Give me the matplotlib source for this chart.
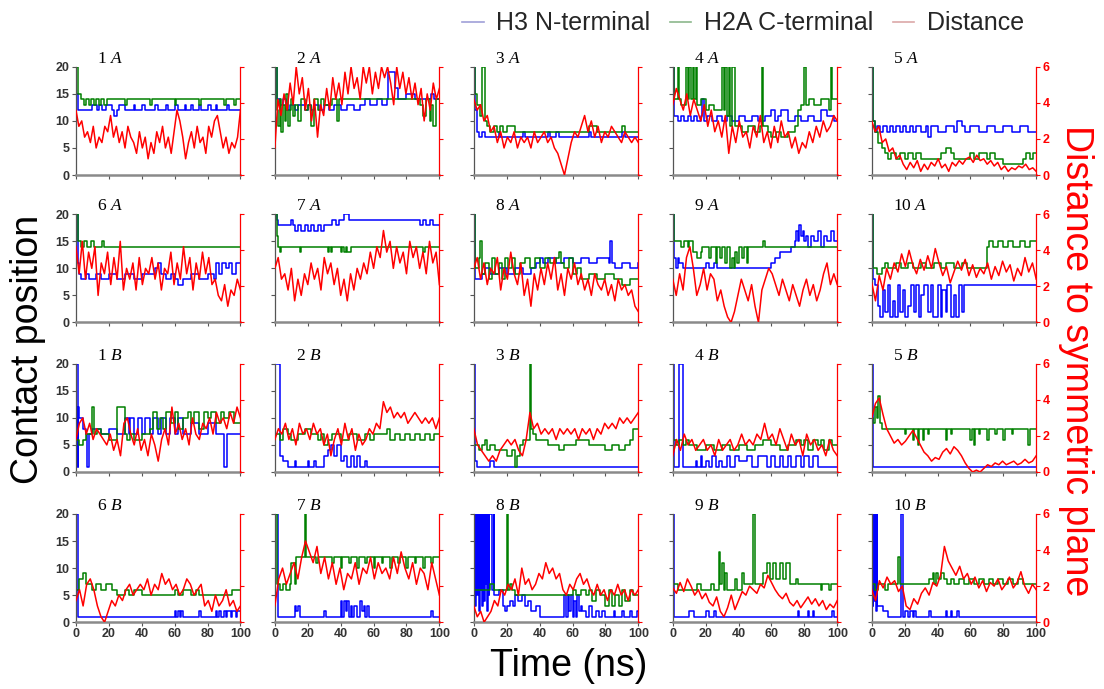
import numpy as np
import matplotlib
matplotlib.use("Agg")
import matplotlib.pyplot as plt
from matplotlib.lines import Line2D

plt.rcParams["font.family"] = ["Liberation Sans", "DejaVu Sans"]
plt.rcParams["mathtext.fontset"] = "custom"
plt.rcParams["mathtext.rm"] = "Liberation Serif"
plt.rcParams["mathtext.it"] = "Liberation Serif:italic"

# ---- data: blue/green = (time, contact position) steps, red = distance samples over 0-100 ns ----
blue_1A = [(0, 15), (1, 12), (10, 13), (13, 12), (14, 13), (16, 12), (18, 13), (22, 12), (23, 11), (25, 12),
           (26, 13), (30, 12), (35, 13), (36, 12), (40, 13), (42, 12), (48, 13), (50, 12), (55, 13), (56, 12),
           (60, 13), (62, 12), (66, 13), (67, 12), (70, 13), (71, 12), (75, 13), (76, 12), (80, 13), (82, 12),
           (85, 13), (86, 12), (92, 13), (93, 12), (100, 12)]
green_1A = [(0, 20), (1, 15), (3, 14), (5, 13), (6, 14), (8, 13), (9, 14), (11, 13), (12, 14), (14, 13),
            (15, 14), (17, 13), (19, 14), (30, 13), (31, 14), (45, 13), (46, 14), (60, 13), (61, 14),
            (75, 13), (76, 14), (90, 13), (91, 14), (96, 13), (97, 14), (100, 14)]
red_1A = [3.6, 2.7, 3.0, 2.1, 2.4, 1.8, 2.7, 1.5, 2.1, 1.8, 2.7, 2.4, 3.3, 2.1, 2.7, 1.8, 2.4, 1.5, 2.7, 2.1,
          1.8, 1.2, 2.4, 1.5, 2.1, 0.9, 1.8, 1.2, 2.4, 1.8, 2.7, 1.5, 2.1, 1.2, 2.4, 3.6, 3.0, 2.1, 0.9, 1.8,
          2.4, 1.5, 2.7, 1.8, 2.1, 1.2, 2.7, 2.1, 3.0, 3.3, 2.4, 1.5, 2.1, 1.2, 1.8, 1.5, 2.1, 3.6]

blue_2A = [(0, 20), (1, 14), (3, 13), (5, 14), (7, 12), (9, 13), (12, 12), (14, 13), (18, 12), (20, 13),
           (22, 12), (24, 13), (27, 12), (30, 13), (33, 12), (36, 13), (40, 12), (44, 13), (48, 12), (52, 13),
           (55, 14), (58, 13), (62, 14), (65, 13), (68, 14), (69, 19), (73, 16), (75, 14), (80, 15), (85, 14),
           (95, 15), (97, 14), (100, 14)]
green_2A = [(0, 20), (1, 12), (2, 9), (3, 14), (4, 8), (5, 13), (6, 10), (7, 15), (8, 9), (9, 12), (10, 14),
            (11, 11), (12, 13), (14, 10), (16, 14), (18, 12), (20, 13), (22, 9), (24, 14), (26, 12), (28, 14),
            (30, 13), (35, 14), (38, 10), (39, 14), (88, 13), (90, 11), (92, 14), (94, 10), (95, 13), (96, 9),
            (98, 14), (100, 14)]
red_2A = [1.5, 4.2, 3.3, 4.5, 3.6, 5.1, 3.9, 6.0, 4.5, 5.4, 3.6, 4.8, 3.0, 4.2, 2.1, 3.9, 3.3, 4.8, 3.6, 5.4,
          4.2, 5.1, 3.9, 5.7, 4.5, 6.0, 4.8, 5.4, 4.2, 6.0, 5.1, 6.0, 4.5, 5.7, 4.8, 6.0, 5.4, 6.0, 5.1, 3.9,
          6.0, 4.8, 5.7, 4.5, 5.4, 4.2, 5.1, 3.9, 4.8, 3.0, 4.5, 3.6, 5.1, 4.2, 4.8]

blue_3A = [(0, 20), (1, 12), (2, 8), (3, 7), (5, 8), (7, 7), (15, 8), (16, 7), (30, 8), (31, 7), (45, 8),
           (46, 7), (50, 8), (52, 7), (70, 8), (71, 7), (90, 8), (92, 7), (100, 7)]
green_3A = [(0, 20), (1, 15), (2, 13), (4, 11), (5, 20), (7, 10), (8, 9), (10, 8), (12, 9), (14, 8), (16, 9),
            (18, 8), (20, 9), (25, 8), (70, 9), (75, 8), (90, 9), (92, 8), (100, 8)]
red_3A = [4.2, 3.6, 3.9, 3.0, 3.3, 2.4, 2.7, 1.8, 2.4, 1.5, 2.1, 1.8, 2.4, 1.5, 2.1, 1.8, 2.1, 1.5, 2.4, 1.8,
          2.1, 2.4, 1.8, 2.1, 1.5, 1.2, 0.6, 0.0, 0.9, 1.8, 2.4, 2.1, 2.7, 3.3, 2.4, 3.0, 2.1, 2.7, 1.8, 2.4,
          2.1, 2.7, 2.4, 2.1, 1.8, 2.4, 2.1, 1.8, 2.1, 1.8]

blue_4A = [(0, 20), (1, 11), (3, 10), (5, 11), (7, 10), (9, 11), (11, 10), (13, 11), (15, 10), (17, 11),
           (18, 14), (19, 10), (21, 11), (24, 10), (27, 11), (30, 10), (33, 11), (36, 10), (40, 11), (44, 10),
           (48, 11), (52, 10), (56, 11), (60, 12), (62, 10), (64, 11), (66, 12), (70, 10), (74, 11), (78, 10),
           (82, 11), (86, 10), (90, 12), (94, 11), (98, 10), (100, 10)]
green_4A = [(0, 20), (1, 14), (3, 20), (4, 14), (5, 13), (8, 20), (9, 14), (10, 20), (11, 14), (12, 20),
            (13, 14), (14, 20), (15, 13), (17, 14), (20, 12), (22, 13), (25, 12), (30, 20), (31, 12), (32, 20),
            (33, 11), (34, 20), (35, 9), (36, 20), (38, 9), (42, 8), (46, 9), (50, 8), (53, 9), (54, 20),
            (55, 9), (58, 8), (60, 7), (63, 8), (66, 7), (70, 8), (74, 9), (76, 12), (78, 13), (80, 20),
            (81, 13), (83, 14), (86, 13), (90, 14), (95, 12), (96, 20), (97, 14), (100, 14)]
red_4A = [3.9, 4.8, 4.2, 3.6, 4.5, 3.3, 4.2, 3.6, 3.0, 3.9, 2.7, 3.6, 2.4, 3.0, 2.1, 3.3, 1.2, 2.7, 1.8, 3.0,
          2.1, 2.4, 1.5, 2.7, 2.1, 3.3, 1.8, 2.4, 1.5, 2.7, 1.8, 3.0, 2.1, 2.4, 1.5, 2.1, 1.2, 1.8, 1.5, 2.4,
          1.8, 2.7, 2.1, 3.0, 2.4, 2.7, 3.3, 3.0]

blue_5A = [(0, 20), (1, 10), (2, 8), (3, 9), (5, 8), (7, 9), (9, 8), (11, 9), (13, 8), (15, 9), (17, 8),
           (19, 9), (21, 8), (23, 9), (25, 8), (27, 9), (30, 8), (33, 9), (34, 7), (36, 9), (40, 8), (45, 9),
           (50, 8), (52, 10), (55, 9), (57, 8), (60, 9), (65, 8), (70, 9), (75, 8), (80, 9), (85, 8), (90, 9),
           (95, 8), (100, 8)]
green_5A = [(0, 20), (1, 10), (2, 8), (4, 6), (6, 5), (8, 4), (10, 3), (12, 4), (15, 3), (17, 4), (20, 3),
            (22, 4), (25, 3), (27, 4), (30, 3), (40, 3), (42, 4), (45, 5), (48, 4), (50, 3), (60, 4), (62, 3),
            (65, 4), (70, 3), (72, 4), (75, 3), (80, 2), (90, 2), (92, 3), (94, 4), (96, 3), (98, 4), (100, 4)]
red_5A = [3.0, 2.4, 2.7, 1.8, 2.0, 1.3, 1.5, 0.9, 1.1, 0.6, 0.3, 0.7, 0.4, 0.8, 0.2, 0.6, 0.3, 0.7, 0.5, 0.9,
          0.4, 0.6, 0.2, 0.7, 0.5, 0.8, 0.6, 0.9, 1.0, 0.7, 1.1, 0.8, 0.9, 0.6, 0.8, 0.5, 0.7, 0.3, 0.5, 0.2,
          0.4, 0.3, 0.5, 0.4, 0.6, 0.3, 0.4, 0.2]

blue_6A = [(0, 20), (1, 11), (2, 9), (3, 8), (6, 9), (8, 8), (12, 9), (15, 8), (20, 9), (25, 8), (30, 9),
           (35, 8), (40, 9), (48, 10), (50, 11), (52, 9), (55, 8), (58, 9), (60, 8), (62, 7), (65, 8), (70, 9),
           (75, 8), (80, 9), (84, 8), (85, 11), (87, 9), (89, 11), (91, 10), (93, 11), (95, 9), (97, 11),
           (100, 11)]
green_6A = [(0, 20), (1, 15), (3, 14), (5, 15), (7, 14), (9, 15), (11, 14), (16, 15), (17, 14), (100, 14)]
red_6A = [4.2, 2.7, 4.5, 2.4, 3.9, 3.0, 4.2, 1.5, 3.3, 2.7, 3.9, 2.1, 3.6, 2.4, 4.5, 1.8, 3.0, 2.4, 3.3, 1.8,
          3.6, 2.1, 3.0, 2.7, 3.6, 2.4, 3.3, 1.8, 3.0, 2.7, 3.9, 2.1, 3.3, 2.4, 4.2, 2.7, 3.6, 1.8, 3.3, 2.4,
          3.9, 2.7, 3.6, 2.1, 2.4, 1.5, 1.2, 2.1, 0.9, 1.8, 1.5, 2.4, 1.8]

blue_7A = [(0, 20), (1, 19), (2, 18), (10, 19), (11, 18), (12, 17), (14, 18), (16, 17), (18, 18), (20, 17),
           (22, 18), (24, 17), (26, 18), (28, 17), (30, 18), (35, 19), (37, 18), (39, 19), (42, 20), (45, 19),
           (87, 19), (88, 18), (90, 19), (92, 18), (94, 19), (96, 18), (100, 18)]
green_7A = [(0, 20), (1, 16), (2, 14), (3, 13), (4, 14), (15, 13), (16, 14), (32, 13), (33, 14), (34, 13),
            (35, 14), (40, 13), (41, 14), (42, 13), (43, 14), (44, 13), (46, 14), (90, 13), (91, 14), (100, 14)]
red_7A = [3.0, 3.6, 2.4, 2.7, 1.8, 3.0, 1.2, 2.4, 1.5, 2.7, 2.1, 3.3, 2.4, 3.0, 1.8, 3.6, 2.7, 3.3, 2.1, 3.0,
          1.5, 2.4, 1.2, 2.7, 1.8, 3.0, 2.4, 3.3, 2.7, 3.9, 3.0, 4.2, 3.6, 5.1, 3.9, 4.5, 3.0, 4.2, 3.3, 3.9,
          2.7, 4.5, 3.6, 4.2, 3.0, 3.9, 2.7, 4.5, 3.3, 3.9, 2.1]

blue_8A = [(0, 20), (1, 8), (5, 9), (7, 10), (10, 9), (15, 10), (20, 9), (25, 10), (30, 9), (35, 10),
           (38, 11), (40, 12), (42, 11), (45, 12), (50, 11), (55, 12), (60, 11), (65, 12), (70, 11), (75, 12),
           (82, 11), (83, 15), (84, 11), (86, 10), (90, 11), (95, 10), (100, 11)]
green_8A = [(0, 20), (1, 10), (3, 12), (4, 15), (5, 9), (7, 11), (9, 8), (11, 12), (13, 9), (15, 11),
            (17, 8), (19, 12), (21, 10), (23, 12), (25, 9), (28, 11), (31, 12), (34, 10), (37, 12), (40, 10),
            (43, 12), (46, 11), (50, 12), (52, 13), (53, 11), (55, 10), (58, 12), (60, 9), (63, 10), (65, 8),
            (70, 9), (75, 8), (80, 9), (85, 8), (90, 7), (95, 8), (100, 8)]
red_8A = [3.0, 3.6, 2.4, 3.3, 2.1, 3.0, 2.7, 3.6, 1.8, 3.0, 2.4, 3.9, 2.7, 2.1, 3.3, 1.5, 2.4, 0.9, 2.7, 1.8,
          3.0, 2.1, 3.3, 2.4, 3.6, 1.8, 2.7, 1.5, 3.0, 2.4, 3.3, 2.1, 2.7, 1.8, 2.4, 1.5, 2.7, 2.1, 1.8, 2.4,
          1.5, 2.1, 1.2, 2.4, 1.8, 2.1, 1.5, 1.8, 0.9, 0.6]

blue_9A = [(0, 20), (1, 12), (2, 10), (3, 12), (4, 11), (6, 10), (20, 11), (22, 10), (25, 11), (27, 10),
           (60, 11), (62, 12), (65, 13), (72, 14), (74, 15), (75, 17), (76, 15), (77, 18), (78, 16), (79, 17),
           (80, 15), (81, 16), (82, 14), (84, 16), (86, 15), (88, 17), (90, 14), (92, 16), (94, 15), (96, 17),
           (98, 15), (100, 15)]
green_9A = [(0, 20), (1, 15), (5, 14), (7, 15), (9, 14), (10, 15), (12, 13), (15, 12), (17, 13), (18, 14),
            (22, 12), (23, 14), (26, 11), (27, 14), (29, 12), (30, 14), (32, 11), (33, 14), (35, 10), (36, 12),
            (37, 10), (38, 13), (39, 11), (40, 14), (42, 12), (43, 14), (45, 11), (46, 14), (55, 15), (56, 14),
            (100, 14)]
red_9A = [2.4, 1.5, 2.7, 1.8, 3.6, 4.2, 3.0, 1.5, 2.1, 3.0, 1.8, 2.7, 2.4, 1.2, 1.8, 0.9, 0.3, 0.0, 0.6, 1.5,
          2.4, 1.8, 1.2, 2.1, 0.9, 0.0, 1.8, 2.4, 3.0, 2.7, 2.1, 1.5, 2.4, 1.8, 1.2, 2.1, 1.5, 0.9, 1.8, 2.4,
          1.5, 2.1, 1.2, 1.8, 2.7, 3.3, 2.1, 2.7, 2.1]

blue_10A = [(0, 20), (1, 8), (2, 7), (4, 3), (5, 1), (7, 6), (8, 2), (10, 7), (11, 1), (13, 4), (14, 1),
            (16, 7), (17, 2), (19, 6), (20, 1), (22, 3), (24, 7), (26, 2), (27, 7), (29, 1), (30, 5), (32, 7),
            (34, 2), (36, 7), (37, 1), (40, 7), (42, 1), (43, 6), (45, 2), (46, 7), (48, 1), (50, 5), (51, 1),
            (53, 7), (55, 2), (56, 7), (100, 7)]
green_10A = [(0, 20), (1, 10), (3, 9), (6, 10), (8, 11), (10, 10), (15, 11), (18, 10), (22, 11), (25, 10),
             (30, 11), (33, 10), (38, 11), (42, 10), (45, 11), (50, 10), (55, 11), (58, 10), (70, 14), (71, 15),
             (74, 14), (77, 15), (80, 14), (83, 15), (86, 14), (90, 15), (93, 14), (96, 15), (100, 15)]
red_10A = [2.2, 1.2, 2.6, 1.8, 3.0, 2.4, 3.3, 2.8, 3.8, 3.1, 4.0, 3.2, 2.7, 3.5, 2.9, 3.7, 3.0, 4.1, 3.3, 2.6,
           3.1, 2.2, 2.8, 3.4, 2.9, 3.5, 2.6, 3.2, 2.5, 3.0, 2.7, 3.3, 2.4, 3.1, 2.6, 3.4, 2.8, 3.2, 2.3, 3.0,
           2.6, 3.6, 2.8, 3.3, 2.4]

blue_1B = [(0, 20), (1, 1), (1.5, 12), (2, 10), (4, 8), (6, 7), (7, 1), (8, 7), (10, 8), (15, 7), (20, 8),
           (25, 7), (30, 10), (32, 7), (33, 10), (35, 7), (38, 10), (40, 7), (42, 10), (45, 7), (47, 10),
           (50, 7), (52, 10), (55, 7), (57, 10), (60, 7), (62, 10), (65, 7), (70, 9), (75, 7), (80, 9), (85, 7),
           (90, 1), (92, 7), (100, 7)]
green_1B = [(0, 6), (2, 5), (4, 6), (6, 7), (10, 12), (11, 7), (13, 8), (15, 7), (20, 6), (25, 12), (30, 7),
            (31, 6), (33, 7), (35, 6), (40, 7), (45, 8), (47, 11), (49, 8), (51, 10), (53, 8), (55, 11), (58, 9),
            (60, 11), (62, 8), (65, 10), (68, 11), (70, 9), (72, 11), (75, 8), (78, 11), (80, 10), (82, 11),
            (85, 9), (88, 11), (90, 10), (93, 11), (96, 9), (100, 9)]
red_1B = [1.8, 2.7, 3.0, 2.1, 2.7, 1.8, 2.4, 2.1, 1.8, 1.5, 2.1, 1.2, 1.8, 0.9, 2.7, 3.0, 2.1, 1.5, 2.4, 1.2,
          1.8, 0.9, 2.1, 1.5, 0.6, 1.8, 2.4, 1.5, 3.6, 2.1, 2.7, 1.8, 2.4, 1.5, 3.0, 2.1, 1.8, 2.7, 2.4, 3.0,
          2.1, 3.3, 2.7, 3.0, 2.4, 3.3, 2.7, 3.6, 3.0]

blue_2B = [(0, 20), (2, 20), (3, 3), (5, 2), (8, 1), (12, 2), (13, 1), (20, 2), (21, 1), (24, 2), (25, 1),
           (30, 3), (32, 4), (34, 5), (36, 3), (38, 5), (40, 2), (42, 3), (44, 1), (46, 3), (48, 1), (50, 3),
           (52, 1), (55, 2), (56, 1), (100, 1)]
green_2B = [(0, 7), (3, 6), (5, 8), (8, 7), (10, 6), (14, 7), (18, 8), (22, 7), (26, 6), (28, 7), (30, 5),
            (32, 6), (35, 7), (40, 6), (45, 7), (50, 6), (55, 7), (58, 6), (60, 7), (68, 8), (70, 6), (73, 7),
            (76, 6), (79, 7), (82, 6), (85, 7), (88, 6), (91, 7), (94, 6), (97, 7), (100, 7)]
red_2B = [1.8, 2.4, 2.1, 2.7, 1.8, 2.4, 1.5, 2.7, 2.1, 2.4, 1.8, 2.7, 2.1, 2.4, 1.5, 2.1, 0.9, 1.8, 2.4, 1.5,
          2.7, 1.8, 2.4, 1.2, 2.1, 1.5, 1.8, 2.4, 2.1, 2.7, 2.4, 3.9, 3.3, 3.6, 3.0, 3.3, 3.0, 3.3, 2.7, 3.0,
          3.3, 3.0, 2.7, 3.0, 2.7, 3.0, 2.4, 3.0]

blue_3B = [(0, 20), (1, 2), (2, 1), (10, 2), (12, 1), (100, 1)]
green_3B = [(0, 5), (3, 4), (5, 5), (7, 6), (8, 4), (10, 5), (13, 4), (20, 3), (23, 4), (25, 1), (26, 3),
            (28, 5), (30, 6), (34, 20), (35, 8), (36, 7), (38, 6), (45, 5), (52, 4), (55, 5), (62, 6), (70, 5),
            (80, 4), (84, 5), (88, 4), (92, 5), (95, 6), (97, 8), (100, 8)]
red_3B = [2.4, 1.5, 1.2, 0.9, 0.6, 0.9, 0.6, 1.2, 1.5, 1.8, 1.5, 1.8, 1.2, 0.9, 1.8, 3.3, 2.4, 2.7, 2.1, 2.4,
          2.1, 2.4, 1.8, 2.4, 2.1, 2.4, 2.1, 2.4, 1.8, 2.4, 2.1, 2.4, 1.8, 2.4, 2.1, 2.7, 2.4, 2.7, 2.4, 3.0,
          2.7, 3.0, 2.7, 3.0, 3.3]

blue_4B = [(0, 20), (1, 1), (4, 20), (6, 1), (14, 2), (15, 1), (17, 3), (18, 1), (20, 2), (22, 1), (24, 3),
           (26, 1), (28, 2), (30, 1), (33, 3), (35, 1), (38, 3), (40, 2), (45, 3), (48, 1), (52, 3), (57, 1),
           (60, 3), (62, 1), (65, 3), (67, 1), (70, 3), (72, 1), (75, 3), (78, 1), (80, 3), (83, 1), (85, 3),
           (88, 1), (100, 1)]
green_4B = [(0, 6), (2, 5), (4, 6), (6, 5), (8, 6), (10, 5), (15, 4), (20, 5), (25, 4), (30, 5), (35, 4),
            (40, 5), (45, 4), (50, 5), (55, 6), (60, 5), (65, 4), (70, 5), (75, 6), (78, 5), (80, 6), (82, 4),
            (85, 6), (88, 5), (90, 6), (92, 4), (95, 6), (97, 5), (100, 5)]
red_4B = [0.9, 1.8, 1.2, 2.1, 1.5, 1.8, 1.2, 1.5, 1.8, 1.2, 1.5, 0.9, 1.8, 1.2, 1.5, 1.8, 1.2, 1.5, 2.1, 1.5,
          1.8, 1.5, 2.1, 1.8, 2.7, 1.8, 2.1, 1.5, 2.4, 1.8, 1.2, 2.1, 1.5, 1.8, 0.9, 2.1, 1.5, 1.8, 1.2, 1.5,
          0.9, 1.8, 1.2, 0.9]

blue_5B = [(0, 20), (1, 1), (100, 1)]
green_5B = [(0, 10), (1, 9), (2, 12), (3, 10), (4, 14), (5, 9), (6, 8), (20, 7), (21, 8), (25, 6), (26, 8),
            (28, 5), (29, 8), (31, 6), (32, 8), (34, 7), (35, 8), (45, 6), (46, 8), (48, 7), (49, 8), (60, 6),
            (61, 8), (62, 5), (63, 8), (65, 7), (66, 8), (70, 6), (71, 8), (75, 7), (76, 8), (80, 6), (81, 8),
            (85, 7), (86, 8), (95, 5), (96, 8), (100, 8)]
red_5B = [3.0, 3.8, 4.1, 3.2, 2.4, 2.0, 1.6, 1.8, 1.5, 1.7, 2.0, 2.3, 1.9, 1.5, 1.1, 0.9, 0.6, 0.8, 0.7, 1.1,
          1.3, 1.0, 1.4, 1.2, 0.9, 0.5, 0.2, 0.0, 0.1, 0.0, 0.2, 0.4, 0.3, 0.5, 0.4, 0.6, 0.4, 0.5, 0.6, 0.4,
          0.5, 0.7, 0.5, 0.6, 0.9]

blue_6B = [(0, 20), (1, 1), (60, 2), (61, 1), (62, 2), (63, 1), (64, 2), (65, 1), (75, 2), (76, 1), (85, 2),
           (86, 1), (87, 2), (88, 1), (90, 2), (91, 1), (92, 2), (94, 1), (95, 2), (97, 1), (98, 2), (100, 2)]
green_6B = [(0, 6), (2, 8), (4, 9), (6, 7), (10, 6), (12, 7), (15, 6), (18, 7), (22, 6), (25, 5), (30, 6),
            (32, 5), (35, 6), (40, 5), (60, 6), (62, 5), (65, 6), (70, 5), (73, 6), (75, 5), (95, 6), (100, 6)]
red_6B = [1.2, 1.8, 0.9, 2.1, 2.4, 1.8, 0.9, 0.3, 0.0, 0.6, 1.2, 0.9, 1.5, 1.2, 1.8, 2.1, 1.5, 1.8, 2.1, 1.8,
          2.4, 1.5, 2.1, 1.8, 2.7, 2.1, 2.4, 1.8, 2.1, 1.5, 1.8, 2.4, 2.1, 1.5, 1.8, 2.1, 0.9, 1.2, 0.6, 1.5,
          0.9, 1.2, 1.8, 0.9, 1.2, 0.6, 0.9]

blue_7B = [(0, 20), (2, 1), (12, 3), (13, 2), (14, 3), (15, 1), (30, 2), (31, 1), (40, 4), (41, 1), (42, 4),
           (43, 2), (44, 4), (45, 1), (46, 3), (47, 1), (48, 3), (50, 1), (52, 4), (53, 2), (54, 3), (55, 1),
           (56, 3), (57, 1), (95, 2), (96, 1), (100, 1)]
green_7B = [(0, 20), (1, 7), (3, 6), (5, 7), (7, 6), (9, 7), (10, 11), (12, 7), (13, 12), (18, 20), (19, 12),
            (25, 11), (26, 12), (35, 11), (36, 12), (40, 10), (41, 12), (45, 11), (46, 12), (50, 10), (51, 12),
            (55, 11), (56, 12), (60, 10), (61, 12), (65, 11), (66, 12), (70, 10), (71, 12), (75, 11), (76, 12),
            (80, 10), (81, 12), (85, 11), (86, 12), (90, 10), (91, 12), (95, 11), (96, 12), (100, 12)]
red_7B = [0.9, 2.4, 3.0, 2.1, 2.7, 3.3, 2.4, 3.6, 4.5, 3.9, 3.3, 4.2, 2.7, 3.6, 2.4, 3.3, 2.1, 3.0, 1.8, 2.7,
          2.4, 3.3, 2.1, 3.0, 2.7, 3.6, 2.4, 3.3, 2.7, 3.0, 2.4, 3.6, 2.7, 3.9, 3.0, 2.4, 3.3, 2.1, 3.0, 2.7,
          1.8, 3.3, 2.4, 1.5]

blue_8B = [(0, 20), (1, 3), (1.5, 20), (2, 5), (2.5, 20), (3, 2), (3.5, 20), (4, 6), (4.5, 20), (5, 3),
           (5.5, 20), (6, 4), (6.5, 20), (7, 7), (7.5, 20), (8, 2), (8.5, 20), (9, 5), (9.5, 20), (11, 6),
           (12, 20), (12.5, 5), (15, 6), (18, 3), (19, 2), (20, 3), (22, 4), (24, 3), (25, 5), (27, 4), (29, 5),
           (31, 3), (33, 4), (35, 2), (38, 3), (40, 1), (55, 5), (56, 1), (57, 5), (58, 2), (59, 5), (60, 1),
           (61, 4), (62, 1), (63, 5), (64, 2), (65, 3), (66, 2), (68, 1), (70, 3), (72, 1), (74, 2), (76, 1),
           (78, 2), (80, 1), (85, 2), (86, 1), (90, 2), (91, 1), (95, 2), (96, 1), (99, 2), (100, 2)]
green_8B = [(0, 6), (10, 7), (12, 6), (20, 20), (21, 6), (22, 7), (23, 6), (25, 5), (60, 6), (62, 5), (65, 6),
            (68, 5), (70, 6), (72, 4), (74, 6), (77, 5), (80, 3), (82, 6), (84, 3), (86, 5), (88, 3), (90, 6),
            (92, 4), (95, 6), (97, 5), (100, 5)]
red_8B = [0.9, 0.3, 0.6, 0.0, 0.3, 0.6, 1.2, 0.9, 1.8, 1.5, 2.1, 1.8, 2.4, 1.5, 3.0, 2.1, 2.4, 1.8, 2.1, 2.7,
          2.4, 3.3, 2.7, 3.0, 2.4, 2.7, 1.8, 1.5, 2.1, 1.8, 2.4, 2.7, 2.1, 2.4, 1.8, 1.5, 2.1, 1.5, 1.8, 1.2,
          1.8, 1.5, 2.1, 1.5, 1.8, 1.2, 1.8, 1.5, 1.8]

blue_9B = [(0, 20), (1, 1), (10, 2), (13, 1), (20, 2), (22, 1), (25, 2), (26, 1), (76, 2), (77, 1), (82, 2),
           (83, 1), (85, 2), (86, 1), (97, 2), (98, 1), (100, 1)]
green_9B = [(0, 7), (3, 6), (15, 7), (17, 6), (23, 7), (25, 6), (28, 13), (29, 7), (30, 11), (31, 6), (32, 9),
            (33, 6), (38, 8), (39, 6), (42, 9), (43, 7), (49, 20), (50, 7), (55, 9), (57, 11), (59, 8), (61, 11),
            (63, 8), (65, 11), (67, 8), (69, 11), (71, 7), (75, 8), (76, 7), (90, 6), (91, 7), (95, 6), (96, 7),
            (100, 7)]
red_9B = [1.9, 1.6, 2.2, 1.7, 2.4, 2.0, 1.5, 1.8, 1.3, 1.6, 1.1, 0.9, 1.4, 0.6, 0.3, 0.8, 1.5, 0.7, 1.2, 1.7,
          1.5, 2.0, 1.8, 1.6, 2.1, 1.9, 2.6, 2.2, 1.8, 1.5, 1.3, 1.6, 1.1, 0.9, 1.2, 0.8, 1.1, 1.4, 1.0, 1.3,
          0.9, 1.2, 0.7, 1.0, 0.8, 1.2]

blue_10B = [(0, 20), (0.5, 3), (1, 20), (1.5, 4), (2, 20), (2.5, 2), (3, 20), (3.5, 3), (7, 2), (10, 1),
            (18, 20), (19, 1), (20, 2), (22, 1), (23, 2), (25, 1), (26, 2), (27, 1), (35, 2), (36, 1), (45, 2),
            (46, 1), (48, 2), (49, 1), (52, 2), (53, 1), (100, 1)]
green_10B = [(0, 7), (2, 6), (4, 7), (8, 6), (10, 7), (16, 12), (17, 7), (35, 8), (37, 9), (38, 7), (39, 9),
             (40, 8), (42, 9), (44, 8), (46, 7), (48, 8), (50, 7), (53, 8), (56, 7), (59, 8), (62, 7), (65, 8),
             (68, 7), (71, 8), (74, 7), (77, 8), (80, 7), (83, 8), (86, 7), (89, 8), (92, 7), (100, 7)]
red_10B = [1.8, 1.2, 2.3, 1.9, 2.5, 2.1, 2.3, 1.7, 2.0, 0.9, 0.7, 1.3, 1.0, 1.6, 1.9, 1.5, 2.2, 2.0, 2.6, 4.2,
           3.4, 3.0, 2.6, 3.1, 2.4, 2.7, 2.1, 2.5, 1.9, 2.3, 1.7, 2.2, 2.0, 2.4, 1.8, 2.1, 2.5, 1.9, 2.2, 2.8,
           2.0, 1.6, 2.1, 1.8]

panels = [
    ("1", "A", blue_1A, green_1A, red_1A), ("2", "A", blue_2A, green_2A, red_2A),
    ("3", "A", blue_3A, green_3A, red_3A), ("4", "A", blue_4A, green_4A, red_4A),
    ("5", "A", blue_5A, green_5A, red_5A), ("6", "A", blue_6A, green_6A, red_6A),
    ("7", "A", blue_7A, green_7A, red_7A), ("8", "A", blue_8A, green_8A, red_8A),
    ("9", "A", blue_9A, green_9A, red_9A), ("10", "A", blue_10A, green_10A, red_10A),
    ("1", "B", blue_1B, green_1B, red_1B), ("2", "B", blue_2B, green_2B, red_2B),
    ("3", "B", blue_3B, green_3B, red_3B), ("4", "B", blue_4B, green_4B, red_4B),
    ("5", "B", blue_5B, green_5B, red_5B), ("6", "B", blue_6B, green_6B, red_6B),
    ("7", "B", blue_7B, green_7B, red_7B), ("8", "B", blue_8B, green_8B, red_8B),
    ("9", "B", blue_9B, green_9B, red_9B), ("10", "B", blue_10B, green_10B, red_10B),
]

BLUE, GREEN, RED = "#0000ff", "#008000", "#ff0000"

fig = plt.figure(figsize=(11.04, 6.89), dpi=100)

# grid geometry (figure fractions)
left0, dx, w, h = 0.0688, 0.1802, 0.149, 0.157
bottoms = [0.746, 0.532, 0.315, 0.097]

for i, (num, letter, blue, green, red) in enumerate(panels):
    r, c = divmod(i, 5)
    ax = fig.add_axes([left0 + c * dx, bottoms[r], w, h])

    bt, bv = zip(*blue)
    gt, gv = zip(*green)
    ax.plot(bt, bv, drawstyle="steps-post", color=BLUE, lw=1.1)
    ax.plot(gt, gv, drawstyle="steps-post", color=GREEN, lw=1.1)
    ax.set_xlim(0, 100)
    ax.set_ylim(0, 20)
    ax.set_xticks(range(0, 101, 20))
    ax.set_yticks([0, 5, 10, 15, 20])

    ax2 = ax.twinx()
    ax2.plot(np.linspace(0, 100, len(red)), red, color=RED, lw=1.1)
    ax2.set_ylim(0, 6)
    ax2.set_yticks([0, 2, 4, 6])

    # spines
    ax.spines["top"].set_visible(False)
    ax.spines["right"].set_visible(False)
    ax.spines["left"].set_color("#555555")
    ax.spines["left"].set_linewidth(0.9)
    ax.spines["bottom"].set_color("#8a8a8a")
    ax.spines["bottom"].set_linewidth(1.8)
    for s in ("top", "left", "bottom"):
        ax2.spines[s].set_visible(False)
    ax2.spines["right"].set_color(RED)
    ax2.spines["right"].set_linewidth(0.9)

    ax.tick_params(axis="both", direction="out", length=3, width=0.8, color="#555555",
                   labelsize=9, labelcolor="#333333", pad=1.5,
                   labelbottom=(r == 3), labelleft=(c == 0))
    ax2.tick_params(axis="y", direction="out", length=3, width=0.8, color=RED,
                    labelsize=9, labelcolor=RED, pad=1.5, labelright=(c == 4))
    for lab in ax.get_xticklabels() + ax.get_yticklabels() + ax2.get_yticklabels():
        lab.set_fontweight("bold")

    ax.text(0.13, 1.0, num + r" $\mathit{" + letter + "}$", transform=ax.transAxes,
            family="Liberation Serif", fontsize=12.5, ha="left", va="bottom")

# legend on top
handles = [Line2D([0], [0], color="#a0a0d8", lw=1.2),
           Line2D([0], [0], color="#8cb88c", lw=1.2),
           Line2D([0], [0], color="#dca8a8", lw=1.2)]
fig.legend(handles, ["H3 N-terminal", "H2A C-terminal", "Distance"], loc="center right",
           bbox_to_anchor=(0.948, 0.966), ncol=3, frameon=False, fontsize=18,
           handlelength=0.85, handletextpad=0.5, columnspacing=0.8, labelcolor="#262626")

fig.text(0.025, 0.493, "Contact position", rotation=90, fontsize=27, ha="center", va="center")
fig.text(0.975, 0.476, "Distance to symmetric plane", rotation=-90, fontsize=27, color=RED,
         ha="center", va="center")
fig.text(0.515, 0.033, "Time (ns)", fontsize=27, ha="center", va="center")

fig.savefig("out.png", dpi=100)
